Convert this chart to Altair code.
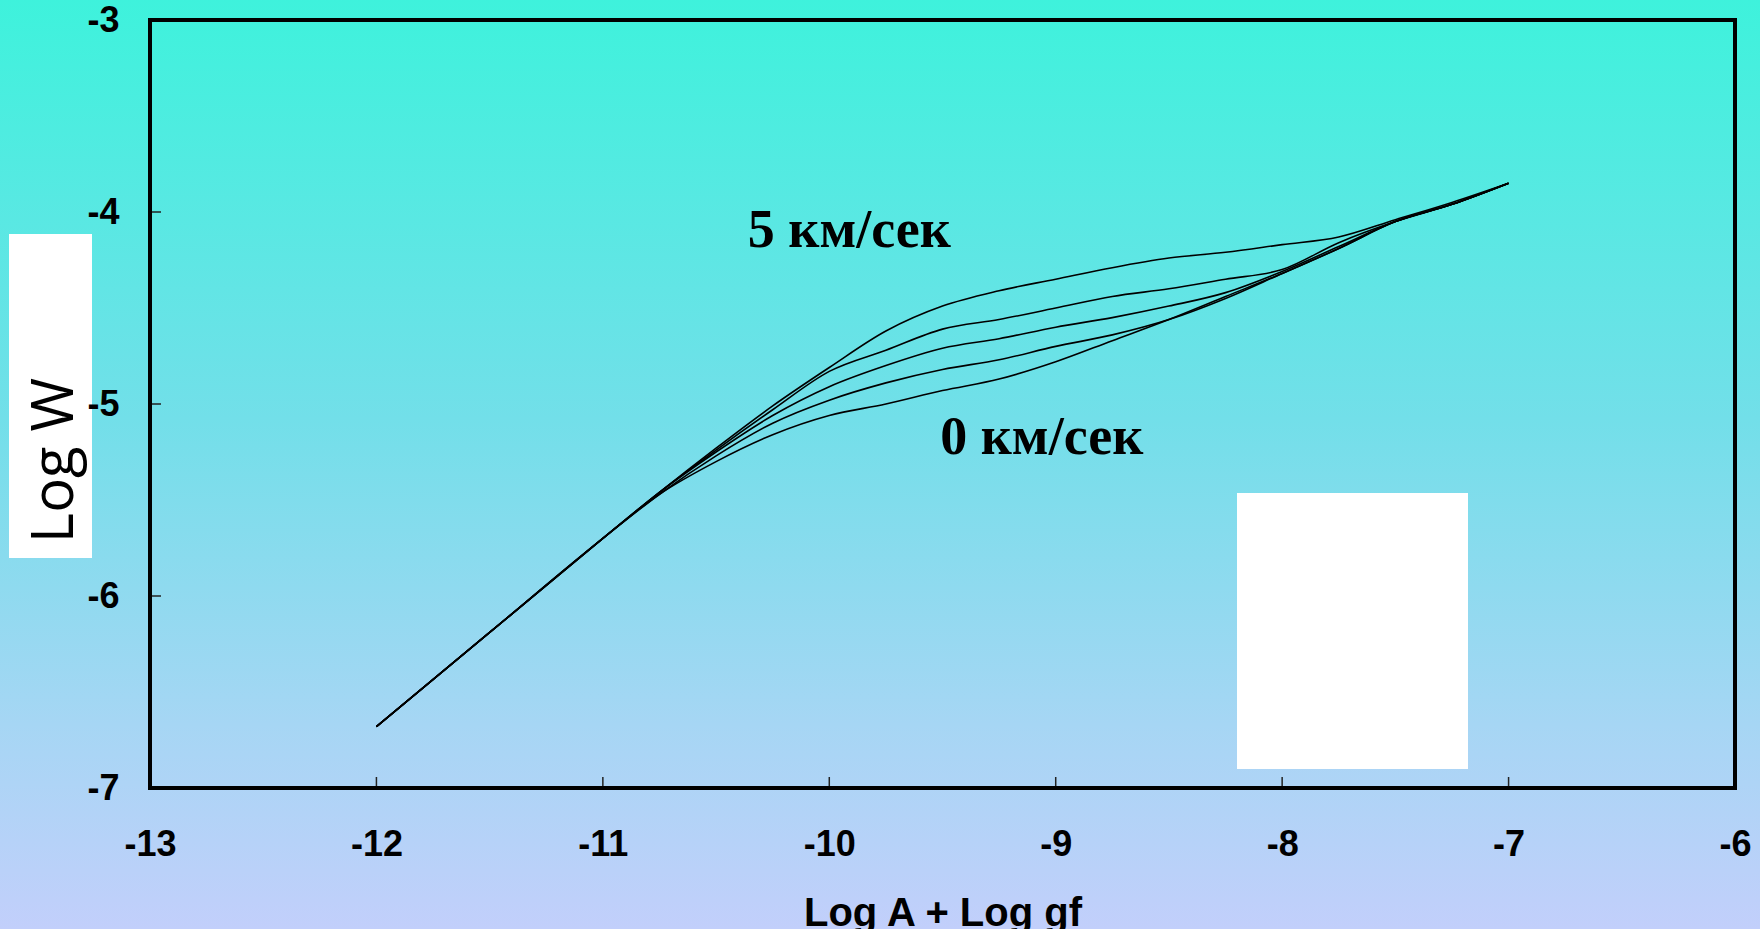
import altair as alt
import pandas as pd

# Curves of growth: Log W against Log A + Log gf for several microturbulent velocities
log_agf = [-12, -11.5, -11, -10.75, -10.5, -10.25, -10, -9.75, -9.5, -9.25,
           -9, -8.75, -8.5, -8.25, -8, -7.75, -7.5, -7.25, -7]

w_v5 = [-6.68, -6.19, -5.70, -5.46, -5.23, -5.01, -4.81, -4.62, -4.49, -4.41,
        -4.35, -4.29, -4.24, -4.21, -4.17, -4.13, -4.04, -3.95, -3.85]
w_v3 = [-6.68, -6.19, -5.70, -5.46, -5.24, -5.03, -4.83, -4.72, -4.61, -4.56,
        -4.50, -4.44, -4.40, -4.35, -4.30, -4.16, -4.05, -3.96, -3.85]
w_v2 = [-6.68, -6.19, -5.70, -5.46, -5.25, -5.06, -4.91, -4.80, -4.71, -4.66,
        -4.60, -4.55, -4.49, -4.42, -4.31, -4.18, -4.05, -3.96, -3.85]
w_v1 = [-6.68, -6.19, -5.70, -5.47, -5.27, -5.10, -4.98, -4.89, -4.82, -4.77,
        -4.70, -4.64, -4.56, -4.45, -4.32, -4.19, -4.05, -3.96, -3.85]
w_v0 = [-6.68, -6.19, -5.70, -5.47, -5.30, -5.16, -5.06, -5.00, -4.93, -4.87,
        -4.78, -4.67, -4.56, -4.44, -4.32, -4.19, -4.05, -3.96, -3.85]

velocities = ["5", "3", "2", "1", "0"]
series = [w_v5, w_v3, w_v2, w_v1, w_v0]

x_ticks = [-13, -12, -11, -10, -9, -8, -7, -6]
y_ticks = [-7, -6, -5, -4, -3]
x_inner_ticks = [-12, -11, -10, -9, -8, -7]
y_inner_ticks = [-6, -5, -4]

label_text = ["5 км/сек", "0 км/сек"]
label_x = [-10.36, -9.51]
label_y = [-4.18, -5.26]

W, H = 1585, 768

rows = []
for v, ys in zip(velocities, series):
    for x, y in zip(log_agf, ys):
        rows.append({"v": v, "x": x, "y": y})
curves_df = pd.DataFrame(rows)

xs = alt.Scale(domain=[-13, -6], nice=False, zero=False)
ys_ = alt.Scale(domain=[-7, -3], nice=False, zero=False)

# plain hyphen-minus in tick labels
tick_label = "'' + datum.value"

x_axis = alt.Axis(values=x_ticks, labelExpr=tick_label, domain=False, ticks=False, grid=False,
                  labelFont="Liberation Sans", labelFontWeight="bold", labelFontSize=36,
                  labelColor="black", labelPadding=39, labelFlush=False,
                  title="Log A + Log gf", titleFont="Liberation Sans", titleFontWeight="bold",
                  titleFontSize=40, titleColor="black", titlePadding=31, zindex=1)
y_axis = alt.Axis(values=y_ticks, labelExpr=tick_label, domain=False, ticks=False, grid=False,
                  labelFont="Liberation Sans", labelFontWeight="bold", labelFontSize=36,
                  labelColor="black", labelPadding=31, labelFlush=False,
                  title="Log W", titleFont="Open Sans", titleFontWeight="normal",
                  titleFontSize=58, titleColor="black", titleAngle=270,
                  titleX=-95, titleY=440, titleAlign="center", titleBaseline="middle",
                  zindex=1)

one = pd.DataFrame({"k": [0]})

background = alt.Chart(one).mark_rect(
    fill=alt.Gradient(
        gradient="linear", x1=0, x2=0, y1=0, y2=1,
        stops=[alt.GradientStop(color="#3ef2dc", offset=0),
               alt.GradientStop(color="#72dfe9", offset=0.45),
               alt.GradientStop(color="#a6d6f4", offset=0.78),
               alt.GradientStop(color="#c2cffb", offset=1)]),
).encode(x=alt.value(-150), x2=alt.value(W + 25), y=alt.value(-20), y2=alt.value(H + 141))

title_box = alt.Chart(one).mark_rect(fill="white").encode(
    x=alt.value(-141), x2=alt.value(-58), y=alt.value(214), y2=alt.value(538))

blank_box = alt.Chart(one).mark_rect(fill="white").encode(
    x=alt.value(1087), x2=alt.value(1318), y=alt.value(473), y2=alt.value(749))

lines = alt.Chart(curves_df).mark_line(
    color="black", strokeWidth=1.6, interpolate="monotone"
).encode(
    x=alt.X("x:Q", scale=xs, axis=x_axis),
    y=alt.Y("y:Q", scale=ys_, axis=y_axis),
    detail="v:N",
)

xt = alt.Chart(pd.DataFrame({"t": x_inner_ticks})).mark_rule(color="#222", strokeWidth=1.5).encode(
    x=alt.X("t:Q", scale=xs), y=alt.value(H), y2=alt.value(H - 11))
yt = alt.Chart(pd.DataFrame({"t": y_inner_ticks})).mark_rule(color="#222", strokeWidth=1.5).encode(
    y=alt.Y("t:Q", scale=ys_), x=alt.value(0), x2=alt.value(11))

frame = alt.Chart(one).mark_rect(fill="transparent", stroke="black", strokeWidth=4).encode(
    x=alt.value(0), x2=alt.value(W), y=alt.value(0), y2=alt.value(H))

labels = alt.Chart(pd.DataFrame({"t": label_text, "x": label_x, "y": label_y})).mark_text(
    font="Liberation Serif", fontWeight="bold", fontSize=54, align="left",
    baseline="alphabetic", color="black"
).encode(x=alt.X("x:Q", scale=xs), y=alt.Y("y:Q", scale=ys_), text="t:N")

chart = alt.layer(background, title_box, blank_box, xt, yt, lines, labels, frame).properties(
    width=W, height=H,
    autosize=alt.AutoSizeParams(type="none"),
    padding={"left": 150, "top": 20, "right": 25, "bottom": 141},
).configure_view(stroke="transparent").configure(background="#c2cffb")

chart.save("out.html", embed_options={"renderer": "svg", "actions": False})
